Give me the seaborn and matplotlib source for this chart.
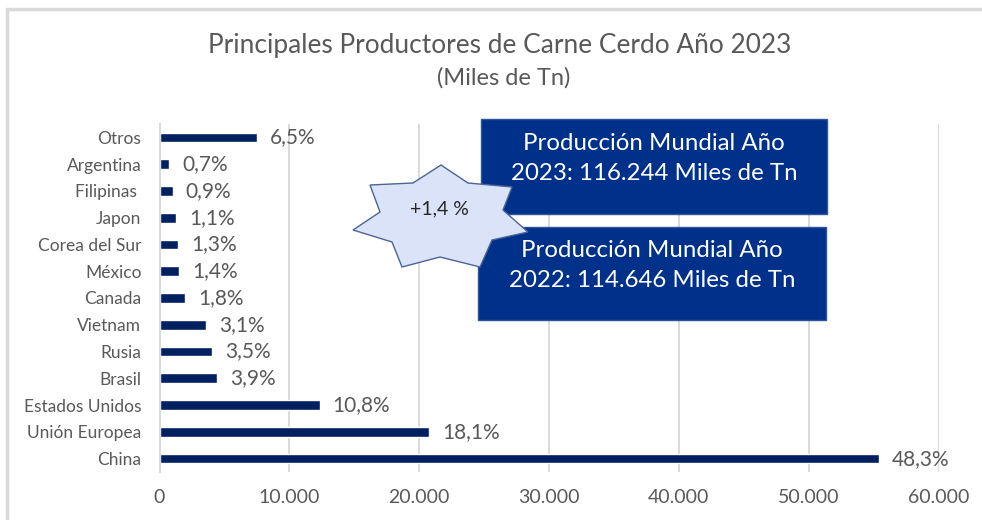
import pandas as pd
import seaborn as sns
import matplotlib.pyplot as plt
from matplotlib.patches import Polygon, Rectangle
from matplotlib.lines import Line2D

# datos (miles de toneladas)
paises = ["Otros", "Argentina", "Filipinas ", "Japon", "Corea del Sur", "México", "Canada",
          "Vietnam", "Rusia", "Brasil", "Estados Unidos", "Unión Europea", "China"]
produccion = [7490, 730, 1020, 1270, 1450, 1530, 1990, 3580, 4020, 4450, 12340, 20790, 55380]
porcentajes = ["6,5%", "0,7%", "0,9%", "1,1%", "1,3%", "1,4%", "1,8%",
               "3,1%", "3,5%", "3,9%", "10,8%", "18,1%", "48,3%"]
xticks = [0, 10000, 20000, 30000, 40000, 50000, 60000]
xtick_labels = ["0", "10.000", "20.000", "30.000", "40.000", "50.000", "60.000"]
texto_2023 = "Producción Mundial Año\n2023: 116.244 Miles de Tn"
texto_2022 = "Producción Mundial Año\n2022: 114.646 Miles de Tn"
variacion = "+1,4 %"

df = pd.DataFrame({"pais": paises, "produccion": produccion})

sns.set_style("white")
plt.rcParams["font.family"] = ["Lato", "DejaVu Sans"]

W, H = 982, 520
fig = plt.figure(figsize=(W / 100, H / 100), dpi=100)


def px(x, y):
    return (x / W, 1 - y / H)


gris = "#595959"
ax = fig.add_axes([159.5 / W, 1 - 472 / H, (938.7 - 159.5) / W, 348 / H])
sns.barplot(data=df, x="produccion", y="pais", order=paises, color="#002060",
            saturation=1, width=0.36, orient="h", ax=ax)

ax.set_xlim(0, 60000)
ax.set_ylim(12.5, -0.5)
ax.set_xticks(xticks)
ax.set_xticklabels(xtick_labels)
ax.set_xlabel("")
ax.set_ylabel("")
ax.xaxis.grid(True, color="#D9D9D9", lw=1.4)
ax.set_axisbelow(True)
for s in ["top", "right", "bottom"]:
    ax.spines[s].set_visible(False)
ax.spines["left"].set_color("#D9D9D9")
ax.spines["left"].set_linewidth(1.4)
ax.tick_params(axis="y", length=0, pad=13, labelsize=12.5, labelcolor=gris)
ax.tick_params(axis="x", length=0, pad=12, labelsize=14, labelcolor=gris)

for i, (v, p) in enumerate(zip(produccion, porcentajes)):
    ax.text(v + 1000, i, p, va="center", ha="left", fontsize=15, color=gris)

# titulo
fig.text(*px(500, 46), "Principales Productores de Carne Cerdo Año 2023",
         ha="center", va="center", fontsize=18.9, color=gris)
fig.text(*px(504, 78), "(Miles de Tn)", ha="center", va="center", fontsize=17, color=gris)

# marco del grafico
fig.add_artist(Line2D([7 / W, 1], [1 - 9 / H] * 2, color="#D9D9D9", lw=2.5))
fig.add_artist(Line2D([7 / W] * 2, [0, 1 - 9 / H], color="#D9D9D9", lw=2.5))

# cuadros de produccion mundial
azul = "#00318A"
for (x0, y0, x1, y1), txt in [((481, 119, 827, 214), texto_2023),
                              ((478, 227, 826, 320), texto_2022)]:
    fig.add_artist(Rectangle(px(x0, y1), (x1 - x0) / W, (y1 - y0) / H,
                             transform=fig.transFigure, fc=azul, ec="#2F5597", lw=1))
    fig.text(*px((x0 + x1) / 2, (y0 + y1) / 2 - 8), txt, ha="center", va="center",
             color="white", fontsize=17.3, linespacing=1.55)

# estrella de 7 puntas
estrella = [(441, 165), (468, 183), (512, 187), (503, 210), (528, 232), (492, 240),
            (480, 267), (440, 257), (402, 267), (392, 242), (353, 230), (380, 212),
            (370, 185), (413, 183)]
fig.add_artist(Polygon([px(x, y) for x, y in estrella], closed=True,
                       transform=fig.transFigure, fc="#DAE3F8", ec="#4A6596", lw=1))
fig.text(*px(439, 209), variacion, ha="center", va="center", fontsize=14, color="#262626")

fig.savefig("out.png", dpi=100)
